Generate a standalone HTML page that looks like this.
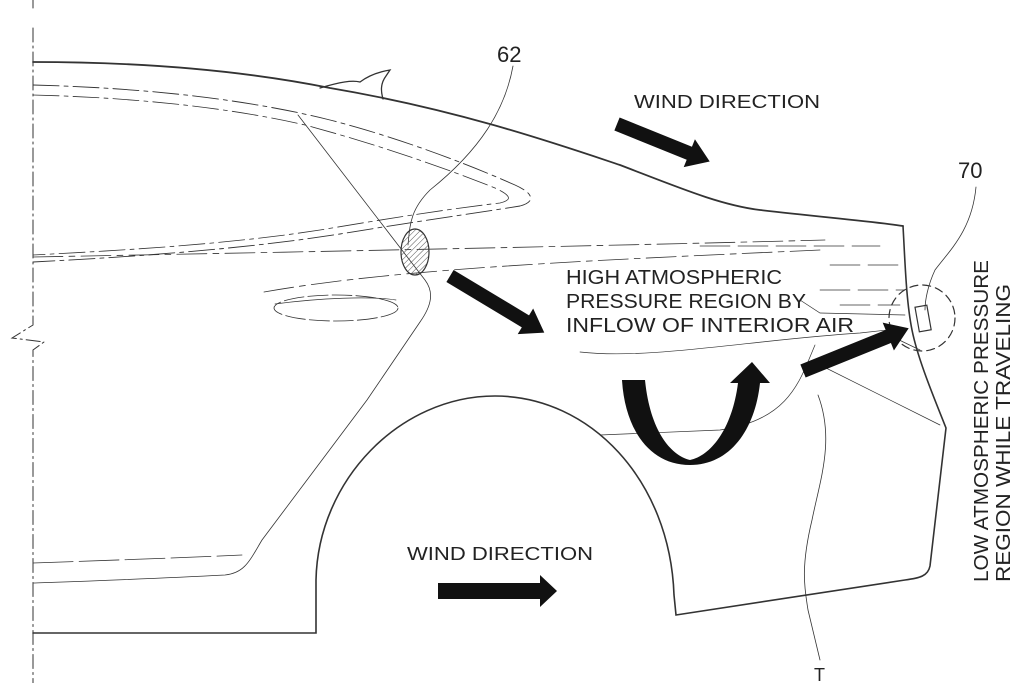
<!DOCTYPE html>
<html><head><meta charset="utf-8"><style>
html,body{margin:0;padding:0;background:#fff;}
svg{display:block;}
text{font-family:"Liberation Sans",sans-serif;fill:#222;}
</style></head><body>
<svg width="1024" height="683" viewBox="0 0 1024 683" xmlns="http://www.w3.org/2000/svg">
<defs><pattern id="h" width="4" height="4" patternUnits="userSpaceOnUse" patternTransform="rotate(45)"><line x1="0" y1="0" x2="0" y2="4" stroke="#555" stroke-width="1"/></pattern></defs>
<g fill="none" stroke="#333" stroke-linecap="round">
<path d="M33 0 V8 M33 28 V325 L12 338 L44 342 L33 350 V683" stroke-width="1" stroke-dasharray="14 4 2 4"/>
<path d="M33 62 C150 62 250 72 330 88 C460 110 560 145 620 165 C680 188 720 205 760 210 C820 217 870 221 903 226" stroke-width="1.8"/>
<!-- shark fin -->
<path d="M320 88 C340 82 352 80 360 82 C368 76 378 72 390 70 L386 76 C380 84 381 92 383 99" stroke-width="1.3"/>
<path d="M903 226 C905 260 906 300 912 330 C918 360 935 400 946 428 L930 566 C928 576 920 578 905 580 L676 615 L674 595 C670 480 590 396 495 396 C400 396 318 480 316 580 V633 H33" stroke-width="1.6"/>
<!-- window outline dashed -->
<path d="M33 85 C150 88 250 100 330 120 C400 138 470 165 515 185 C535 194 535 202 520 206 C470 214 400 224 340 234 C250 248 150 256 33 262" stroke-width="0.9" stroke-dasharray="26 5 4 5"/>
<path d="M33 95 C150 98 240 110 305 125 C380 145 450 170 495 188 C512 196 512 200 500 203 C440 210 380 220 320 230 C230 244 130 250 33 255" stroke-width="0.8" stroke-dasharray="26 5 4 5"/>
<path d="M33 257 C300 252 600 246 825 240" stroke-width="0.8" stroke-dasharray="30 6 6 6"/>
<path d="M264 292 C400 268 600 260 820 250" stroke-width="0.8" stroke-dasharray="30 6 6 6"/>
<ellipse cx="336" cy="308" rx="62" ry="13" stroke-width="0.8" stroke-dasharray="20 4"/>
<path d="M275 304 C320 298 370 296 396 300" stroke-width="0.7"/>
<!-- door cut line -->
<path d="M298 115 L425 280 C434 292 432 305 420 322 L367 400 L262 540 C250 560 245 573 225 575 C150 579 90 581 33 583" stroke-width="0.8"/>
<path d="M33 563 C120 560 200 557 242 555" stroke-width="0.8" stroke-dasharray="40 6"/>
<path d="M513 66 C505 110 480 150 430 190 C410 210 410 225 408 245" stroke-width="0.8"/>
<ellipse cx="415" cy="252" rx="14" ry="23" stroke-width="1.2" fill="url(#h)"/>
<path d="M700 246 H880 M830 265 H905 M820 290 H905 M840 305 H900" stroke-width="0.7" stroke-dasharray="30 8"/>
<path d="M800 300 L820 313 L905 315" stroke-width="0.7"/>
<path d="M580 352 C650 360 750 340 860 333 L905 328" stroke-width="0.7"/>
<path d="M815 345 C800 380 790 420 720 430 L600 435" stroke-width="0.7"/>
<path d="M818 395 C835 440 820 480 812 520 C800 570 805 590 808 610 L820 660" stroke-width="0.8"/>
<path d="M820 365 L940 425" stroke-width="0.7"/>
<path d="M895 338 L920 350" stroke-width="0.7"/>
<path d="M976 187 C972 230 950 250 935 270 C928 285 925 300 925 310" stroke-width="0.8"/>
<circle cx="922" cy="318" r="33" stroke-width="1.2" stroke-dasharray="8 5"/>
<rect x="917" y="306" width="12" height="25" transform="rotate(-10 923 318)" stroke-width="1.2"/>
</g>
<g fill="#111">
<polygon points="0,-7 78,-7 78,-15 100,0 78,15 78,7 0,7" transform="translate(617,124) rotate(22)"/>
<polygon points="0,-7 88,-7 88,-15 110,0 88,15 88,7 0,7" transform="translate(450,276) rotate(31)"/>
<polygon points="0,-7 92,-7 92,-15 114,0 92,15 92,7 0,7" transform="translate(803,371) rotate(-22)"/>
<polygon points="438,583 540,583 540,575 557,591 540,607 540,599 438,599"/>
<path d="M622 380 L645 380 C650 430 670 455 690 460 C710 456 732 430 738 383 L730 383 L752 362 L770 383 L760 383 C755 430 730 465 690 465 C650 465 625 430 622 380 Z"/>
</g>
<text x="497" y="62" font-size="22">62</text>
<text x="958" y="178" font-size="22">70</text>
<text x="814" y="681" font-size="18">T</text>
<text x="634" y="108" font-size="18" textLength="186" lengthAdjust="spacingAndGlyphs">WIND DIRECTION</text>
<text x="407" y="560" font-size="18" textLength="186" lengthAdjust="spacingAndGlyphs">WIND DIRECTION</text>
<text x="566" y="284" font-size="20" textLength="216" lengthAdjust="spacingAndGlyphs">HIGH ATMOSPHERIC</text>
<text x="566" y="308" font-size="20" textLength="240" lengthAdjust="spacingAndGlyphs">PRESSURE REGION BY</text>
<text x="566" y="332" font-size="20" textLength="288" lengthAdjust="spacingAndGlyphs">INFLOW OF INTERIOR AIR</text>
<text transform="translate(988,582) rotate(-90)" font-size="20" textLength="322" lengthAdjust="spacingAndGlyphs">LOW ATMOSPHERIC PRESSURE</text>
<text transform="translate(1010,582) rotate(-90)" font-size="20" textLength="298" lengthAdjust="spacingAndGlyphs">REGION WHILE TRAVELING</text>
</svg>
</body></html>
